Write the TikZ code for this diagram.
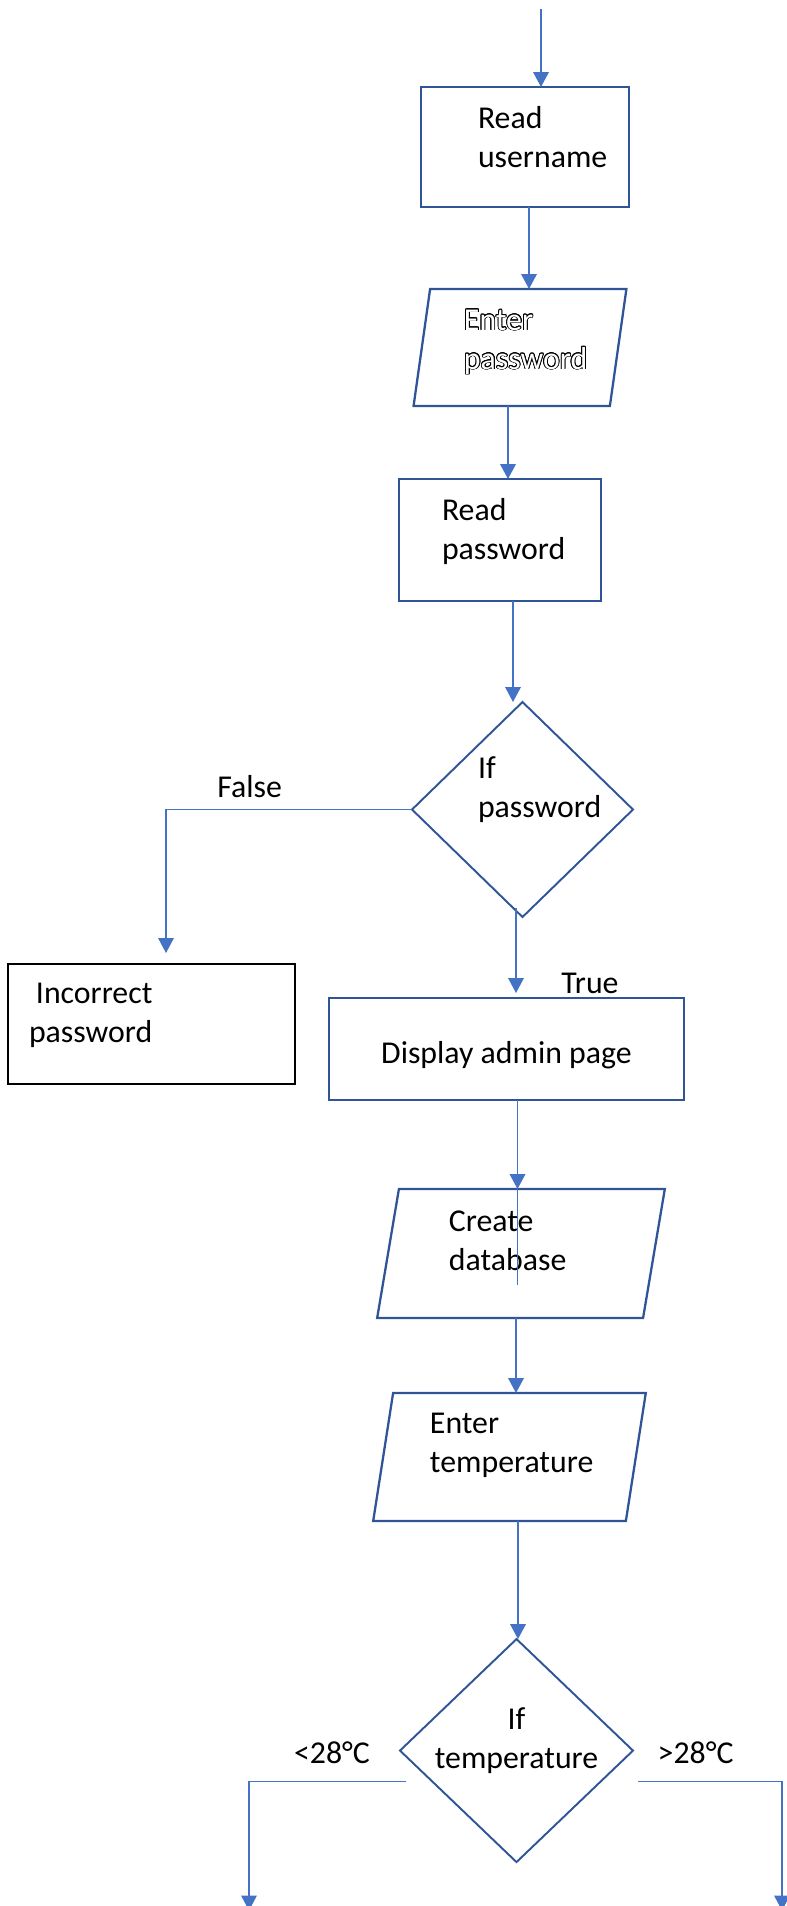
\documentclass[tikz,border=0pt]{standalone}
\usepackage{fontspec}
\setmainfont{Carlito}
\usepackage[copies]{contour}
\usetikzlibrary{positioning,shapes.geometric,arrows.meta}
\definecolor{LineBlue}{RGB}{68,114,196}
\definecolor{EdgeBlue}{RGB}{47,85,151}
\contourlength{0.5pt}
\newcommand{\outlined}[1]{\contour{black}{\textcolor{white}{#1}}}
\hyphenpenalty=10000
\tikzset{
  base/.style={draw=EdgeBlue,line width=1.4pt,outer sep=0pt,inner sep=0.1cm,
               font=\fontsize{18.1}{22.2}\selectfont,align=left,text height=0pt},
  rbox/.style={base,rectangle},
  iobox/.style={base,trapezium,trapezium left angle=76,trapezium right angle=104,
                trapezium stretches=true,line width=1.3pt},
  dbox/.style={base,diamond,aspect=1,line width=1.1pt},
  kbox/.style={base,rectangle,draw=black,line width=0.75pt},
  arr/.style={-{Triangle[length=0.3cm,width=0.31cm]},LineBlue,line width=1.1pt},
  strayline/.style={LineBlue,line width=0.7pt},
  lbl/.style={font=\fontsize{18.1}{22.2}\selectfont,text=black,inner sep=0.04cm},
}
\begin{document}
\begin{tikzpicture}
\useasboundingbox (0,0) rectangle (15.74,-38.12);

\node[rbox, minimum width=4.16cm, minimum height=2.40cm, text width=1.88cm, text depth=0.76cm] (uname) at (10.50,-2.94) {Read\\username};
\node[iobox, minimum width=4.28cm, minimum height=2.34cm, text width=2.24cm, text depth=0.70cm, below=1.64cm of uname, xshift=-0.10cm] (pin) {\outlined{Enter}\\\outlined{password}};
\node[rbox, minimum width=4.04cm, minimum height=2.44cm, text width=2.32cm, text depth=0.80cm, below=1.46cm of pin, xshift=-0.40cm] (rpass) {Read\\password};
\node[dbox, minimum width=4.42cm, minimum height=4.30cm, text width=1.78cm, text depth=1.26cm, inner sep=0pt, below=2.02cm of rpass, xshift=0.45cm] (dpass) {If\\password};
\node[rbox, minimum width=7.10cm, minimum height=2.04cm, align=center, text height=0.56cm, text depth=0pt, below=1.62cm of dpass, xshift=-0.32cm] (admin) {Display admin page};
\node[kbox, minimum width=5.74cm, minimum height=2.40cm, text width=4.90cm, text depth=0.84cm, left=0.68cm of admin, yshift=0.5cm] (bad) {\hspace*{0.14cm}Incorrect\\password};
\node[iobox, minimum width=5.76cm, minimum height=2.58cm, text width=2.88cm, text depth=0.90cm, below=1.78cm of admin, xshift=0.29cm] (cdb) {Create\\database};
\node[iobox, minimum width=5.46cm, minimum height=2.56cm, text width=3.18cm, text depth=0.96cm, below=1.50cm of cdb, xshift=-0.23cm] (ptemp) {Enter\\temperature};
\node[dbox, minimum width=4.66cm, minimum height=4.46cm, align=center, text height=0.70cm, text depth=0pt, below=2.36cm of ptemp, xshift=0.14cm] (dtemp) {If\\temperature};

\coordinate (entry) at ([xshift=0.32cm,yshift=1.56cm]uname.north);
\coordinate (stray) at ([xshift=-0.07cm,yshift=-1.92cm]cdb.north);
\coordinate (lowL) at ([xshift=-3.02cm,yshift=-3.2cm]dtemp.west);
\coordinate (lowR) at ([xshift=2.98cm,yshift=-3.2cm]dtemp.east);

\draw[arr] (entry) -- (entry |- uname.north);
\draw[arr] ([xshift=0.08cm]uname.south) -- ([xshift=0.08cm]uname.south |- pin.north);
\draw[arr] ([xshift=-0.24cm]pin.south) -- ([xshift=-0.24cm]pin.south |- rpass.north);
\draw[arr] ([xshift=0.26cm]rpass.south) -- ([xshift=0.26cm]rpass.south |- dpass.north);
\draw[arr,line width=0.9pt] (dpass.west) -| node[lbl,above=0.19cm,pos=0.33] (lfalse) {False} ([xshift=0.29cm,yshift=0.22cm]bad.north);
\draw[arr,shorten >=0.1cm] ([xshift=-0.13cm,yshift=0.18cm]dpass.south) -- ([xshift=-0.13cm]dpass.south |- admin.north);
\node[lbl,above=0.04cm of admin.north,xshift=1.67cm] (ltrue) {True};
\draw[arr] ([xshift=0.22cm]admin.south) -- ([xshift=0.22cm]admin.south |- cdb.north);
\draw[strayline] ([xshift=-0.07cm]cdb.north) -- (stray);
\draw[arr] ([xshift=-0.10cm]cdb.south) -- ([xshift=-0.10cm]cdb.south |- ptemp.north);
\draw[arr] ([xshift=0.17cm]ptemp.south) -- ([xshift=0.17cm]ptemp.south |- dtemp.north);
\draw[arr,line width=0.9pt] ([xshift=0.11cm,yshift=-0.62cm]dtemp.west) -| node[lbl,above=0.3cm,pos=0.235] (lcold) {<28°C} (lowL);
\draw[arr,line width=0.9pt] ([xshift=0.1cm,yshift=-0.62cm]dtemp.east) -| node[lbl,above=0.3cm,pos=0.2] (lhot) {>28°C} (lowR);
\end{tikzpicture}
\end{document}
